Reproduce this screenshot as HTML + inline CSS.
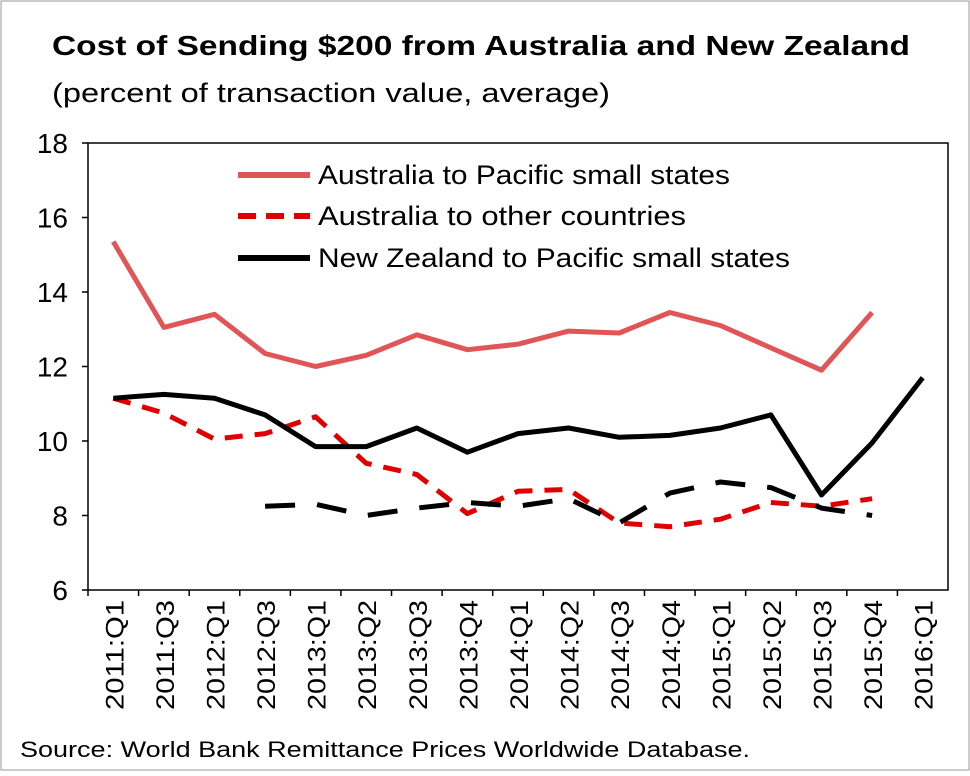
<!DOCTYPE html>
<html><head><meta charset="utf-8"><style>
body{margin:0;background:#fff;font-family:"Liberation Sans","DejaVu Sans",sans-serif;}
svg text{font-family:"Liberation Sans","DejaVu Sans",sans-serif;}
</style></head><body>
<svg id="chart" width="970" height="771" viewBox="0 0 970 771">
<rect x="1" y="1" width="968" height="769" fill="#fff" stroke="#999"/>
<text x="52" y="55" font-size="28" font-weight="bold" textLength="858" lengthAdjust="spacingAndGlyphs">Cost of Sending $200 from Australia and New Zealand</text>
<text x="52" y="102" font-size="27" textLength="558" lengthAdjust="spacingAndGlyphs">(percent of transaction value, average)</text>
<rect x="88" y="143" width="860" height="447" fill="none" stroke="#000" stroke-width="1.5"/>
<g id="yticks"></g><g id="xticks"></g><g id="series"></g>
<g>
<line x1="238" y1="175" x2="310" y2="175" stroke="#e05555" stroke-width="6"/>
<text x="318" y="184" font-size="27" textLength="412" lengthAdjust="spacingAndGlyphs">Australia to Pacific small states</text>
<line x1="238" y1="216" x2="310" y2="216" stroke="#e00000" stroke-width="6" stroke-dasharray="18,10"/>
<text x="318" y="225" font-size="27" textLength="368" lengthAdjust="spacingAndGlyphs">Australia to other countries</text>
<line x1="238" y1="258" x2="310" y2="258" stroke="#000" stroke-width="6"/>
<text x="318" y="267" font-size="27" textLength="472" lengthAdjust="spacingAndGlyphs">New Zealand to Pacific small states</text>
</g>
<text x="20" y="757" font-size="22" textLength="730" lengthAdjust="spacingAndGlyphs">Source: World Bank Remittance Prices Worldwide Database.</text>
</svg>
<script>
const categories=["2011:Q1","2011:Q3","2012:Q1","2012:Q3","2013:Q1","2013:Q2","2013:Q3","2013:Q4","2014:Q1","2014:Q2","2014:Q3","2014:Q4","2015:Q1","2015:Q2","2015:Q3","2015:Q4","2016:Q1"];
const yTicks=[6,8,10,12,14,16,18];
const ausPacific=[15.35,13.05,13.4,12.35,12.0,12.3,12.85,12.45,12.6,12.95,12.9,13.45,13.1,12.5,11.9,13.45,null];
const ausOther=[11.15,10.75,10.05,10.2,10.65,9.4,9.1,8.05,8.65,8.7,7.8,7.7,7.9,8.35,8.25,8.45,null];
const nzPacific=[11.15,11.25,11.15,10.7,9.85,9.85,10.35,9.7,10.2,10.35,10.1,10.15,10.35,10.7,8.55,9.95,11.7];
const nzDashed=[null,null,null,8.25,8.3,8.0,8.2,8.35,8.25,8.45,7.8,8.6,8.9,8.75,8.2,8.0,null];
const NS="http://www.w3.org/2000/svg";
const L=88,R=948,T=143,B=590;
const xS=i=>L+(R-L)/categories.length*(i+0.5);
const yS=v=>B-(v-6)/12*(B-T);
function mk(tag,attrs,parent){const e=document.createElementNS(NS,tag);for(const k in attrs)e.setAttribute(k,attrs[k]);parent.appendChild(e);return e;}
const yg=document.getElementById('yticks');
yTicks.forEach(v=>{
 const t=mk('text',{x:68,y:yS(v)+10,'font-size':28,'text-anchor':'end'},yg);
 
 
 t.textContent=v;
 const tk=mk('line',{x1:82,x2:88,y1:yS(v),y2:yS(v),stroke:'#000','stroke-width':1.5},yg);
 
 
});
const xg=document.getElementById('xticks');
categories.forEach((c,i)=>{
 const x=xS(i);
 const t=mk('text',{x:0,y:0,'font-size':25,'text-anchor':'end',textLength:110,lengthAdjust:'spacingAndGlyphs',transform:`translate(${x+10},600) rotate(-90)`},xg);
 
 
 t.textContent=c;
 const tk=mk('line',{x1:L+(R-L)/categories.length*i,x2:L+(R-L)/categories.length*i,y1:590,y2:596,stroke:'#000','stroke-width':1.5},xg);
 
 
});
const sg=document.getElementById('series');
function draw(data,color,dash,name){
 let d='',pen=false;
 data.forEach((v,i)=>{if(v==null){pen=false;return;}d+=(pen?'L':'M')+xS(i).toFixed(1)+','+yS(v).toFixed(1);pen=true;});
 const p=mk('path',{d:d,fill:'none',stroke:color,'stroke-width':5,'stroke-linejoin':'round','stroke-dasharray':dash||'none'},sg);
 
 
}
draw(ausPacific,'#e05555',null,'line-aus-pacific');
draw(ausOther,'#e00000','18,12','line-aus-other');
draw(nzPacific,'#000',null,'line-nz-pacific');
draw(nzDashed,'#000','30,22','line-nz-dashed');
</script>
</body></html>
